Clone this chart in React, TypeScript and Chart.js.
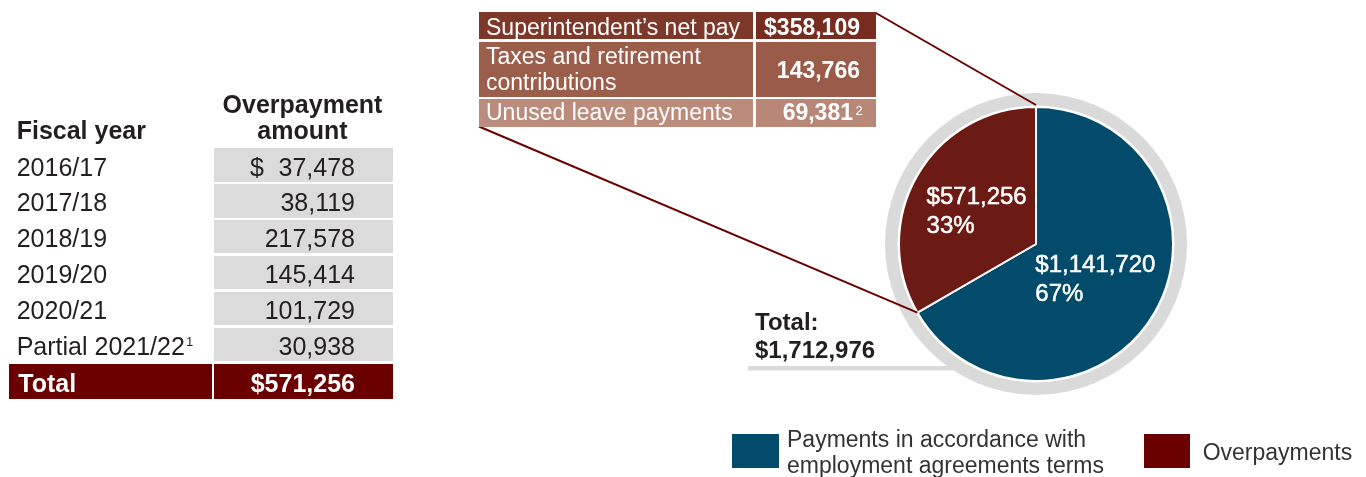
import React, { useEffect, useRef } from 'react';
import { Chart, registerables } from 'chart.js';

Chart.register(...registerables);

const FONT = '"Liberation Sans", Arial, Helvetica, sans-serif';
const TEXT = '#231f20';

// ---- data ----
const pieCategories = ['Payments in accordance with employment agreements terms', 'Overpayments'];
const pieValues = [1141720, 571256];
const pieColors = ['#024b6a', '#6b1b13'];
const legendColors = ['#024b6a', '#6b0000'];
const legendLines = [['Payments in accordance with', 'employment agreements terms'], ['Overpayments']];

const fiscalYears = ['2016/17', '2017/18', '2018/19', '2019/20', '2020/21', 'Partial 2021/22'];
const yearNotes = ['', '', '', '', '', '1'];
const overpaymentAmounts = [37478, 38119, 217578, 145414, 101729, 30938];

const breakdownLines = [["Superintendent\u2019s net pay"], ['Taxes and retirement', 'contributions'], ['Unused leave payments']];
const breakdownValues = [358109, 143766, 69381];
const breakdownNotes = ['', '', '2'];

// ---- layout ----
const W = 1366;
const H = 477;
const CX = 1036;
const CY = 244;
const R = 137;
const RING = '#d9dad9';
const CELL = '#dadbda';
const DARK = '#6b0000';
const breakdownColors = [
  ['#7d3829', '#782c20'],
  ['#9b5e4b', '#9a5c49'],
  ['#bb8b7b', '#b98777'],
];

const fmt = (v: number) => v.toLocaleString('en-US');
const overpaymentTotal = overpaymentAmounts.reduce((a, b) => a + b, 0);
const grandTotal = pieValues.reduce((a, b) => a + b, 0);

function Txt(props: {
  x: number;
  b: number;
  size: number;
  bold?: boolean;
  color?: string;
  align?: 'left' | 'right' | 'center';
  children: React.ReactNode;
}) {
  const { x, b, size, bold, color = TEXT, align = 'left', children } = props;
  const style: React.CSSProperties = {
    position: 'absolute',
    top: b - 0.8465 * size,
    fontSize: size,
    lineHeight: `${size}px`,
    fontWeight: bold ? 700 : 400,
    color,
    whiteSpace: 'pre',
  };
  if (align === 'left') style.left = x;
  else if (align === 'right') style.right = W - x;
  else {
    style.left = x - 200;
    style.width = 400;
    style.textAlign = 'center';
  }
  return <div style={style}>{children}</div>;
}

function Box(props: { x: number; y: number; w: number; h: number; c: string }) {
  return (
    <div
      style={{ position: 'absolute', left: props.x, top: props.y, width: props.w, height: props.h, background: props.c }}
    />
  );
}

const decorPlugin = {
  id: 'decor',
  beforeDatasetsDraw(chart: any) {
    const meta = chart.getDatasetMeta(0);
    const arc = meta.data[0];
    if (!arc) return;
    const { x, y, outerRadius } = arc.getProps(['x', 'y', 'outerRadius'], true);
    const ctx = chart.ctx as CanvasRenderingContext2D;
    ctx.save();
    ctx.fillStyle = RING;
    ctx.beginPath();
    ctx.arc(x, y, outerRadius + 14, 0, Math.PI * 2);
    ctx.arc(x, y, outerRadius + 1.5, 0, Math.PI * 2, true);
    ctx.fill();
    // grey rule under the total
    const ly = 366;
    const dy = ly + 2 - y;
    const ringR = outerRadius + 14;
    const endX = x - Math.sqrt(Math.max(ringR * ringR - dy * dy, 0)) + 3;
    ctx.fillRect(748, ly, endX - 748, 4.5);
    ctx.restore();
  },
  afterDatasetsDraw(chart: any) {
    const meta = chart.getDatasetMeta(0);
    const arcs = meta.data;
    if (!arcs.length) return;
    const ctx = chart.ctx as CanvasRenderingContext2D;
    const { x, y, outerRadius } = arcs[0].getProps(['x', 'y', 'outerRadius'], true);
    ctx.save();
    // connector lines
    ctx.strokeStyle = DARK;
    ctx.lineWidth = 2;
    ctx.beginPath();
    ctx.moveTo(875, 12.5);
    ctx.lineTo(x, y - outerRadius - 2);
    const a = arcs[1].getProps(['startAngle'], true).startAngle;
    ctx.moveTo(479, 126.5);
    ctx.lineTo(x + outerRadius * Math.cos(a), y + outerRadius * Math.sin(a));
    ctx.stroke();

    // slice labels
    ctx.font = `24px ${FONT}`;
    ctx.fillStyle = '#ffffff';
    ctx.strokeStyle = '#ffffff';
    ctx.lineWidth = 0.5;
    ctx.textAlign = 'left';
    ctx.textBaseline = 'alphabetic';
    arcs.forEach((el: any, i: number) => {
      const pos = el.tooltipPosition(true);
      const v = pieValues[i];
      const lines = ['$' + fmt(v), Math.round((v / grandTotal) * 100) + '%'];
      const w = Math.max(...lines.map((t) => ctx.measureText(t).width));
      const left = pos.x - w / 2;
      lines.forEach((t, j) => {
        const by = pos.y - 6 + j * 29;
        ctx.fillText(t, left, by);
        ctx.strokeText(t, left, by);
      });
    });
    ctx.restore();
  },
};

export default function App() {
  const canvasRef = useRef<HTMLCanvasElement | null>(null);

  useEffect(() => {
    if (!canvasRef.current) return;
    const chart = new Chart(canvasRef.current, {
      type: 'pie',
      data: {
        labels: pieCategories,
        datasets: [
          {
            data: pieValues,
            backgroundColor: pieColors,
            borderColor: '#ffffff',
            borderWidth: 2,
            hoverBorderWidth: 2,
            hoverOffset: 0,
          },
        ],
      },
      options: {
        responsive: false,
        animation: false,
        radius: R,
        layout: {
          padding: { left: CX - 156, right: W - CX - 156, top: CY - 156, bottom: H - CY - 156 },
        },
        events: [],
        plugins: {
          legend: { display: false },
          tooltip: { enabled: false },
        },
      } as any,
      plugins: [decorPlugin],
    });
    return () => chart.destroy();
  }, []);

  const ROW0 = 148.3;
  const PITCH = 35.95;
  const CELL_H = 33.3;

  return (
    <div
      style={{
        position: 'absolute',
        left: 0,
        top: 0,
        width: W,
        height: H,
        overflow: 'hidden',
        background: '#ffffff',
        fontFamily: FONT,
      }}
    >
      <canvas ref={canvasRef} width={W} height={H} style={{ position: 'absolute', left: 0, top: 0, width: W, height: H }} />

      {/* left table */}
      <Txt x={16.7} b={139.3} size={25} bold>
        Fiscal year
      </Txt>
      <Txt x={302.5} b={113.3} size={25} bold align="center">
        Overpayment
      </Txt>
      <Txt x={302.5} b={139.3} size={25} bold align="center">
        amount
      </Txt>
      {fiscalYears.map((fy, i) => {
        const top = ROW0 + i * PITCH;
        return (
          <React.Fragment key={fy}>
            <Box x={214.3} y={top} w={179} h={CELL_H} c={CELL} />
            <Txt x={16.7} b={top + 27.4} size={25}>
              {fy}
              {yearNotes[i] ? (
                <span style={{ fontSize: 13, position: 'relative', top: -9, marginLeft: 1 }}>{yearNotes[i]}</span>
              ) : null}
            </Txt>
            {i === 0 ? (
              <Txt x={250} b={top + 27.4} size={25}>
                $
              </Txt>
            ) : null}
            <Txt x={355} b={top + 27.4} size={25} align="right">
              {fmt(overpaymentAmounts[i])}
            </Txt>
          </React.Fragment>
        );
      })}
      <Box x={9} y={ROW0 + 6 * PITCH} w={202.7} h={35.3} c={DARK} />
      <Box x={214.3} y={ROW0 + 6 * PITCH} w={179} h={35.3} c={DARK} />
      <Txt x={18.3} b={391.7} size={25} bold color="#ffffff">
        Total
      </Txt>
      <Txt x={355} b={391.7} size={25} bold color="#ffffff" align="right">
        {'$' + fmt(overpaymentTotal)}
      </Txt>

      {/* breakdown table */}
      <Box x={479.3} y={11.7} w={274} h={27.6} c={breakdownColors[0][0]} />
      <Box x={756} y={11.7} w={120} h={27.6} c={breakdownColors[0][1]} />
      <Box x={479.3} y={41.7} w={274} h={55} c={breakdownColors[1][0]} />
      <Box x={756} y={41.7} w={120} h={55} c={breakdownColors[1][1]} />
      <Box x={479.3} y={99} w={274} h={28.3} c={breakdownColors[2][0]} />
      <Box x={756} y={99} w={120} h={28.3} c={breakdownColors[2][1]} />

      <Txt x={486} b={35} size={23} color="#ffffff">
        {breakdownLines[0][0]}
      </Txt>
      <Txt x={860} b={35} size={23} bold color="#ffffff" align="right">
        {'$' + fmt(breakdownValues[0])}
      </Txt>
      <Txt x={486} b={64} size={23} color="#ffffff">
        {breakdownLines[1][0]}
      </Txt>
      <Txt x={486} b={90} size={23} color="#ffffff">
        {breakdownLines[1][1]}
      </Txt>
      <Txt x={860} b={78.3} size={23} bold color="#ffffff" align="right">
        {fmt(breakdownValues[1])}
      </Txt>
      <Txt x={486} b={120} size={23} color="#ffffff">
        {breakdownLines[2][0]}
      </Txt>
      <Txt x={853} b={120} size={23} bold color="#ffffff" align="right">
        {fmt(breakdownValues[2])}
      </Txt>
      <Txt x={855.5} b={115.5} size={13} color="#ffffff">
        {breakdownNotes[2]}
      </Txt>

      {/* total under pie */}
      <Txt x={755} b={330} size={24} bold>
        Total:
      </Txt>
      <Txt x={755} b={358.3} size={24} bold>
        {'$' + fmt(grandTotal)}
      </Txt>

      {/* legend */}
      <Box x={732} y={434.3} w={47} h={34} c={legendColors[0]} />
      <Txt x={787} b={447.7} size={23} color="#333333">
        {legendLines[0][0]}
      </Txt>
      <Txt x={787} b={473.3} size={23} color="#333333">
        {legendLines[0][1]}
      </Txt>
      <Box x={1144} y={434.3} w={46} h={33.4} c={legendColors[1]} />
      <Txt x={1202.7} b={460} size={23} color="#333333">
        {legendLines[1][0]}
      </Txt>
    </div>
  );
}
